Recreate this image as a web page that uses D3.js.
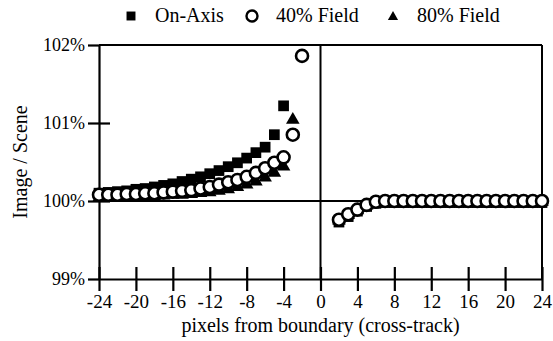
<!DOCTYPE html>
<html>
<head>
<meta charset="utf-8">
<script src="https://cdn.jsdelivr.net/npm/d3@7"></script>
</head>
<body style="margin:0;background:#fff">
<svg id="chart" width="553" height="341"></svg>
<script>
// x positions (pixels from boundary)
const leftX = [-24,-23,-22,-21,-20,-19,-18,-17,-16,-15,-14,-13,-12,-11,-10,-9,-8,-7,-6,-5,-4,-3,-2];
const rightX = [2,3,4,5,6,7,8,9,10,11,12,13,14,15,16,17,18,19,20,21,22,23,24];

// On-Axis (squares): left side ends at -4
const onAxisLeft = [100.10,100.11,100.12,100.13,100.15,100.16,100.18,100.20,100.22,100.25,100.28,100.31,100.35,100.39,100.44,100.49,100.55,100.62,100.69,100.85,101.22];
const onAxisRight = [99.73,99.80,99.87,99.93,99.97,99.98,99.98,99.98,99.98,99.98,99.98,99.98,99.98,99.98,99.98,99.98,99.98,99.98,99.98,99.98,99.98,99.98,99.98];
// 40% Field (circles): left side ends at -2
const field40Left = [100.08,100.08,100.08,100.09,100.09,100.10,100.10,100.11,100.12,100.13,100.14,100.16,100.18,100.21,100.24,100.27,100.31,100.36,100.42,100.49,100.56,100.85,101.86];
const field40Right = [99.76,99.83,99.89,99.95,99.99,100.0,100.0,100.0,100.0,100.0,100.0,100.0,100.0,100.0,100.0,100.0,100.0,100.0,100.0,100.0,100.0,100.0,100.0];
// 80% Field (triangles): left side ends at -3
const field80Left = [100.04,100.04,100.05,100.05,100.05,100.06,100.06,100.07,100.08,100.08,100.09,100.10,100.11,100.13,100.15,100.18,100.21,100.25,100.30,100.36,100.44,101.04];
const field80Right = [99.75,99.82,99.88,99.94,99.98,99.99,99.99,99.99,99.99,99.99,99.99,99.99,99.99,99.99,99.99,99.99,99.99,99.99,99.99,99.99,99.99,99.99,99.99];

const xTicks = [-24,-20,-16,-12,-8,-4,0,4,8,12,16,20,24];
const yTicks = [99,100,101,102];
const legendItems = ["On-Axis", "40% Field", "80% Field"];

const FONT = '"Liberation Serif", "Times New Roman", serif';
const svg = d3.select('#chart');
const x = d3.scaleLinear().domain([-24, 24]).range([99, 542]);
const y = d3.scaleLinear().domain([99, 102]).range([279, 45]);

const toPts = (xs, ys) => ys.map((v, i) => ({x: xs[i], y: v}));

// frame
svg.append('line').attr('x1', x(-24)).attr('x2', x(24)).attr('y1', y(102)).attr('y2', y(102))
  .attr('stroke', '#000').attr('stroke-width', 2);
svg.append('line').attr('x1', x(24)).attr('x2', x(24)).attr('y1', y(102)).attr('y2', y(99))
  .attr('stroke', '#000').attr('stroke-width', 2);
// reference lines at 100% and at 0
svg.append('line').attr('x1', x(-24)).attr('x2', x(24)).attr('y1', y(100)).attr('y2', y(100))
  .attr('stroke', '#000').attr('stroke-width', 2);
svg.append('line').attr('x1', x(0)).attr('x2', x(0)).attr('y1', y(102)).attr('y2', y(99))
  .attr('stroke', '#000').attr('stroke-width', 2);

// x axis (plain hyphen for negatives, like the original)
const gx = svg.append('g').attr('transform', `translate(0,${y(99)})`)
  .call(d3.axisBottom(x).tickValues(xTicks).tickSize(12).tickPadding(4).tickSizeOuter(0)
    .tickFormat(d => String(d)));
gx.select('.domain').attr('stroke-width', 2.2);
gx.selectAll('.tick line').attr('y1', -12).attr('stroke-width', 2.2);
gx.selectAll('.tick text').style('font-family', FONT).style('font-size', '19px').attr('fill', '#000');

// y axis
const gy = svg.append('g').attr('transform', `translate(${x(-24)},0)`)
  .call(d3.axisLeft(y).tickValues(yTicks).tickSize(11).tickPadding(3).tickSizeOuter(0)
    .tickFormat(d => d + '%'));
gy.select('.domain').attr('stroke-width', 2.2);
gy.selectAll('.tick line').attr('x1', 11).attr('stroke-width', 2.2);
gy.selectAll('.tick line').filter(d => d === 99 || d === 102).attr('x1', 0);
gy.selectAll('.tick text').style('font-family', FONT).style('font-size', '18px').attr('fill', '#000');

// markers
const sq = d3.symbol().type(d3.symbolSquare).size(115);
const tri = d3.symbol().type(d3.symbolTriangle).size(80);

const squares = toPts(leftX, onAxisLeft).concat(toPts(rightX, onAxisRight));
const triangles = toPts(leftX, field80Left).concat(toPts(rightX, field80Right));
const circles = toPts(leftX, field40Left).concat(toPts(rightX, field40Right));

svg.append('g').selectAll('path').data(squares).join('path')
  .attr('d', sq).attr('transform', d => `translate(${x(d.x)},${y(d.y)})`).attr('fill', '#000');
svg.append('g').selectAll('path').data(triangles).join('path')
  .attr('d', tri).attr('transform', d => `translate(${x(d.x)},${y(d.y)})`).attr('fill', '#000');
svg.append('g').selectAll('circle').data(circles).join('circle')
  .attr('cx', d => x(d.x)).attr('cy', d => y(d.y)).attr('r', 6)
  .attr('fill', '#fff').attr('stroke', '#000').attr('stroke-width', 2.6);

// legend
const lg = svg.append('g');
const legX = [131, 252, 393];
lg.append('path').attr('d', d3.symbol().type(d3.symbolSquare).size(80))
  .attr('transform', `translate(${legX[0]},16)`).attr('fill', '#000');
lg.append('circle').attr('cx', legX[1]).attr('cy', 16).attr('r', 5.5)
  .attr('fill', '#fff').attr('stroke', '#000').attr('stroke-width', 2.4);
lg.append('path').attr('d', d3.symbol().type(d3.symbolTriangle).size(45))
  .attr('transform', `translate(${legX[2]},17)`).attr('fill', '#000');
legendItems.forEach((t, i) => {
  lg.append('text').attr('x', legX[i] + 24).attr('y', 22)
    .style('font-family', FONT).style('font-size', '20px').text(t);
});

// axis titles
svg.append('text').attr('x', x(0)).attr('y', 332).attr('text-anchor', 'middle')
  .style('font-family', FONT).style('font-size', '20px').text('pixels from boundary (cross-track)');
svg.append('text').attr('transform', `translate(27,${y(100.5)}) rotate(-90)`)
  .attr('text-anchor', 'middle').style('font-family', FONT).style('font-size', '20px').text('Image / Scene');
</script>
</body>
</html>
